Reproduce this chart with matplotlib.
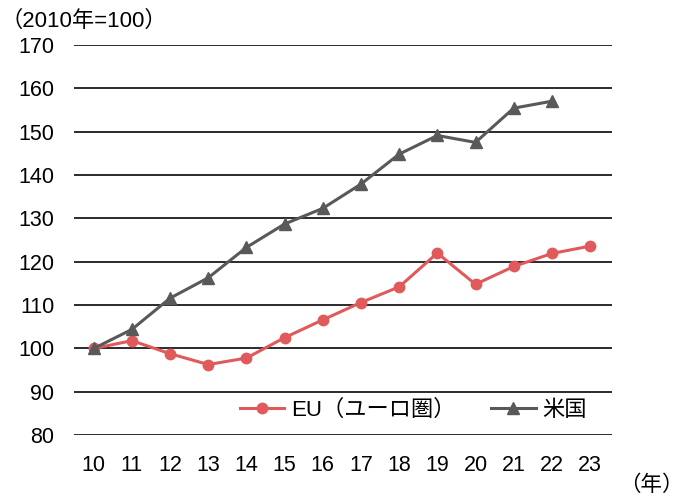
import matplotlib
matplotlib.use('Agg')
import matplotlib.pyplot as plt

plt.rcParams['font.family'] = ['Liberation Sans', 'Noto Sans CJK JP', 'DejaVu Sans']

years = [10, 11, 12, 13, 14, 15, 16, 17, 18, 19, 20, 21, 22, 23]
year_labels = [str(y) for y in years]
eu = [100, 101.8, 98.8, 96.3, 97.8, 102.5, 106.6, 110.6, 114.2, 122.0, 114.8, 118.9, 121.9, 123.6]
us_years = [10, 11, 12, 13, 14, 15, 16, 17, 18, 19, 20, 21, 22]
us = [100, 104.4, 111.6, 116.3, 123.3, 128.7, 132.3, 137.9, 144.8, 149.1, 147.5, 155.4, 157.0]
yticks = [80, 90, 100, 110, 120, 130, 140, 150, 160, 170]

fig = plt.figure(figsize=(6.84, 4.98), dpi=100)
ax = fig.add_axes([0.108, 0.126, 0.787, 0.784])

for t in yticks:
    ax.axhline(t, color='#1a1a1a', lw=1.3, zorder=1)

ax.plot(years, eu, color='#E05A5C', lw=2.2, marker='o', ms=7.5, label='EU（ユーロ圏）', zorder=3)
ax.plot(us_years, us, color='#595959', lw=2.2, marker='^', ms=8, label='米国', zorder=4)

ax.set_xlim(9.48, 23.58)
ax.set_ylim(80, 170)
ax.set_yticks(yticks)
ax.set_xticks(years)
ax.set_xticklabels(year_labels)
for s in ax.spines.values():
    s.set_visible(False)
ax.tick_params(length=0, labelsize=15.5, colors='black')
ax.tick_params(axis='y', pad=14)
ax.tick_params(axis='x', pad=14)

fig.text(0.0, 0.957, '（2010年=100）', fontsize=16, ha='left', va='center')
fig.text(0.905, 0.026, '（年）', fontsize=15.5, ha='left', va='center')

ax.legend(loc='center right', bbox_to_anchor=(0.99, 0.064), ncol=2, frameon=False,
          fontsize=16, handlelength=2.0, columnspacing=1.6, handletextpad=0.3)

fig.savefig('out.png', dpi=100)
